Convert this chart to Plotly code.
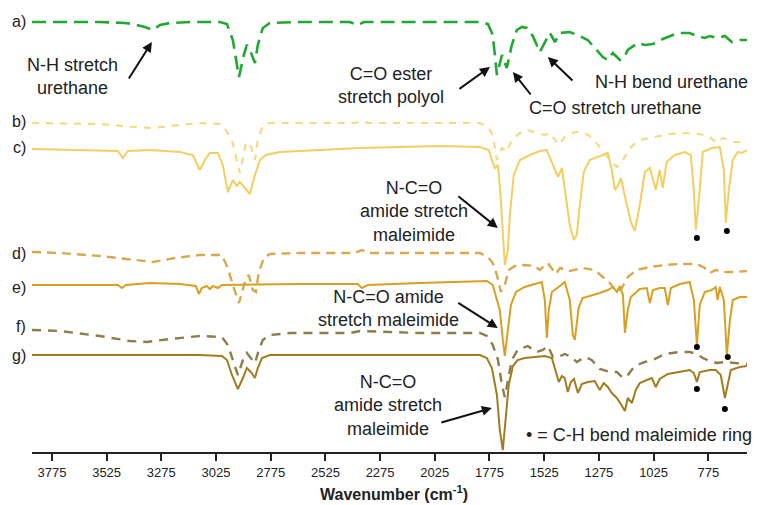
import plotly.graph_objects as go

# ---------------- data ----------------
# wavenumbers (cm-1) and signal relative to each spectrum's own baseline (a.u.)
a_wn = [3866, 3738, 3556, 3441, 3405, 3350, 3313, 3281, 3236, 3144, 3007, 2975, 2948, 2920, 2898, 2884, 2870, 2847, 2834, 2811, 2779, 2642, 2413, 2377, 2349, 2093, 1819, 1782, 1760, 1741, 1718, 1696, 1673, 1650, 1627, 1605, 1577, 1545, 1522, 1499, 1476, 1453, 1408, 1362, 1326, 1284, 1257, 1234, 1211, 1179, 1161, 1143, 1097, 1065, 1028, 983, 914, 860, 827, 791, 768, 736, 699, 667, 631, 598]
a_val = [0, 0, 0, -1, -2, -5, -8, -3, -1, 0, 0, -2, -18, -55, -33, -23, -28, -41, -23, -6, -1, 0, 0, -3, 0, 0, 0, -2, -13, -53, -33, -46, -23, -8, -5, -6, -14, -30, -20, -11, -20, -11, -10, -14, -18, -28, -35, -38, -31, -38, -36, -28, -21, -23, -22, -17, -11, -11, -14, -16, -14, -16, -14, -20, -18, -18]

b_wn = [3866, 3556, 3405, 3313, 3190, 3099, 2998, 2952, 2916, 2888, 2870, 2847, 2834, 2811, 2779, 2390, 2358, 2331, 1819, 1782, 1760, 1741, 1718, 1696, 1673, 1636, 1605, 1559, 1522, 1499, 1476, 1458, 1431, 1385, 1349, 1303, 1262, 1225, 1193, 1170, 1147, 1120, 1088, 1019, 951, 882, 814, 768, 736, 709, 663, 598]
b_val = [0, -1, -4, -5, -2, 0, -1, -17, -50, -20, -20, -37, -17, -3, 0, 0, 2, 0, 0, -4, -12, -37, -25, -29, -17, -10, -7, -10, -12, -10, -17, -22, -14, -9, -9, -15, -27, -37, -44, -39, -30, -22, -17, -14, -11, -10, -11, -14, -20, -15, -19, -19]

c_wn = [3866, 3556, 3473, 3451, 3428, 3327, 3190, 3131, 3099, 3076, 3053, 3016, 2994, 2971, 2948, 2930, 2916, 2893, 2870, 2847, 2824, 2797, 2733, 2550, 2367, 2185, 2002, 1819, 1778, 1764, 1750, 1736, 1723, 1705, 1691, 1682, 1664, 1636, 1591, 1545, 1513, 1485, 1462, 1444, 1426, 1408, 1389, 1376, 1362, 1344, 1317, 1271, 1234, 1216, 1202, 1188, 1175, 1152, 1129, 1111, 1088, 1065, 1042, 1015, 997, 983, 965, 928, 882, 855, 841, 832, 818, 800, 759, 722, 704, 695, 681, 663, 640, 622, 598]
c_val = [0, -1, -2, -9, -2, -1, -3, -6, -21, -11, -4, -4, -16, -43, -31, -37, -33, -39, -45, -26, -11, -6, -3, -1, 1, 2, 3, 2, -1, -11, -19, -16, -51, -116, -101, -66, -26, -11, -6, -2, -1, -16, -28, -19, -46, -76, -91, -86, -56, -23, -11, -7, -4, -21, -41, -37, -29, -51, -73, -82, -56, -23, -19, -41, -21, -39, -13, -6, -3, -6, -41, -81, -51, -3, 1, 2, -21, -74, -41, -11, -3, -4, -1]

d_wn = [3866, 3738, 3556, 3405, 3313, 3213, 3099, 2998, 2971, 2948, 2920, 2888, 2875, 2857, 2843, 2829, 2806, 2779, 2642, 2390, 2358, 2331, 1819, 1782, 1760, 1741, 1723, 1705, 1687, 1659, 1614, 1568, 1545, 1522, 1508, 1485, 1471, 1453, 1408, 1349, 1294, 1257, 1225, 1193, 1170, 1143, 1102, 1042, 974, 905, 827, 791, 768, 741, 704, 654, 598]
d_val = [1, 0, -3, -7, -9, -5, -2, -2, -15, -32, -50, -25, -22, -37, -39, -19, -5, -1, 0, 0, 3, 0, 0, -4, -10, -22, -39, -32, -17, -13, -12, -13, -17, -12, -10, -17, -21, -15, -18, -15, -17, -24, -30, -39, -35, -24, -17, -14, -12, -11, -11, -15, -20, -17, -19, -19, -18]

e_wn = [3866, 3556, 3473, 3455, 3437, 3327, 3190, 3117, 3103, 3090, 3067, 3053, 3039, 3016, 2998, 2642, 2377, 2358, 2331, 2093, 1865, 1787, 1760, 1741, 1728, 1714, 1705, 1691, 1677, 1654, 1614, 1568, 1536, 1522, 1513, 1504, 1490, 1453, 1431, 1408, 1394, 1385, 1376, 1367, 1349, 1317, 1271, 1234, 1211, 1193, 1179, 1165, 1156, 1143, 1129, 1088, 1056, 1042, 1028, 997, 974, 960, 946, 905, 860, 841, 827, 814, 791, 759, 741, 732, 722, 704, 690, 676, 663, 631, 598]
e_val = [0, 0, 0, -3, 0, 2, 1, -1, -9, -3, -1, -4, -1, -3, 0, 1, 1, -3, 0, 2, 4, 4, 0, -15, -25, -55, -71, -45, -20, -7, -2, 1, 3, -15, -53, -25, -7, -1, 3, -15, -50, -55, -40, -22, -13, -11, -8, -5, -2, -7, -1, -10, -48, -25, -12, -4, -3, -18, -5, -3, -3, -20, -3, 1, 3, -15, -60, -20, -7, -5, -2, -15, -2, -15, -70, -35, -15, -12, -12]

f_wn = [3866, 3738, 3556, 3419, 3341, 3236, 3099, 2998, 2971, 2948, 2925, 2902, 2884, 2866, 2847, 2829, 2811, 2779, 2687, 2413, 2367, 2093, 1819, 1787, 1760, 1736, 1718, 1705, 1691, 1673, 1646, 1600, 1559, 1531, 1508, 1485, 1462, 1431, 1408, 1376, 1339, 1308, 1271, 1225, 1193, 1165, 1143, 1111, 1065, 1019, 974, 905, 860, 827, 800, 768, 736, 699, 654, 598]
f_val = [2, 1, -4, -9, -10, -7, -4, -5, -13, -28, -43, -28, -21, -26, -31, -18, -8, -3, -1, -1, 1, -1, -1, -4, -13, -28, -53, -65, -48, -28, -18, -14, -20, -18, -14, -25, -25, -22, -24, -30, -25, -28, -37, -40, -40, -46, -43, -34, -30, -27, -22, -20, -20, -22, -26, -29, -31, -30, -31, -32]

g_wn = [3866, 3556, 3099, 2998, 2975, 2952, 2925, 2902, 2884, 2866, 2847, 2834, 2815, 2779, 1819, 1787, 1764, 1741, 1728, 1714, 1700, 1687, 1668, 1646, 1614, 1577, 1522, 1490, 1471, 1458, 1444, 1431, 1417, 1403, 1389, 1371, 1353, 1326, 1294, 1271, 1253, 1234, 1216, 1193, 1175, 1156, 1143, 1124, 1106, 1088, 1056, 1033, 1015, 997, 960, 905, 860, 841, 827, 814, 768, 741, 718, 699, 686, 672, 631, 598]
g_val = [0, 0, 0, -1, -5, -20, -34, -23, -13, -17, -23, -13, -3, 0, 0, -3, -13, -40, -75, -95, -65, -30, -11, -5, -3, -2, -1, -3, -17, -27, -21, -23, -37, -27, -24, -38, -29, -27, -26, -35, -28, -32, -38, -43, -49, -56, -43, -48, -35, -28, -25, -23, -32, -24, -19, -17, -15, -18, -27, -17, -15, -15, -20, -43, -30, -15, -12, -11]

# stacking offsets (baseline level of each spectrum, a.u.)
spectra_names = ["a)", "b)", "c)", "d)", "e)", "f)", "g)"]
offsets = [430, 329, 303, 199, 167, 120, 97]

# C-H bend maleimide ring markers
dot_wn = [827, 690, 827, 686, 827, 699]
dot_level = [214, 221, 105, 95, 63, 43]

tick_vals = [3775, 3525, 3275, 3025, 2775, 2525, 2275, 2025, 1775, 1525, 1275, 1025, 775]

# ---------------- styles ----------------
W, H = 771, 505
ML, MR, MT, MB = 32, 24, 0, 53
PW, PH = W - ML - MR, H - MT - MB

series = [
    (a_wn, a_val, "#22a832", "14px,7px", 2.6),
    (b_wn, b_val, "#f7d984", "7px,7px", 2.2),
    (c_wn, c_val, "#f3cf62", "solid", 2.0),
    (d_wn, d_val, "#d5a94c", "9px,6px", 2.4),
    (e_wn, e_val, "#d8a020", "solid", 2.0),
    (f_wn, f_val, "#8e7c4a", "9px,7px", 2.4),
    (g_wn, g_val, "#a27c1e", "solid", 2.0),
]

fig = go.Figure()
for (wn, val, col, dash, lw), off, name in zip(series, offsets, spectra_names):
    fig.add_trace(go.Scatter(x=wn, y=[off + v for v in val], mode="lines", name=name,
                             line=dict(color=col, width=lw, dash=dash), hoverinfo="skip"))

fig.add_trace(go.Scatter(x=dot_wn, y=dot_level, mode="markers",
                         marker=dict(color="black", size=6), hoverinfo="skip"))


def px(x):
    return (x - ML) / PW


def py(y):
    return (MT + PH - y) / PH


FONT = "Arial, Liberation Sans, sans-serif"
ann = []
# spectrum labels
for name, row in zip(spectra_names, [21, 121, 148, 253, 287, 326, 355]):
    ann.append(dict(text=name, x=px(28), y=py(row), xref="paper", yref="paper",
                    xanchor="right", yanchor="middle", showarrow=False,
                    font=dict(size=16, color="#222")))

texts = [
    ("N-H stretch<br>urethane", 72, 76),
    ("C=O ester<br>stretch polyol", 391, 86),
    ("C=O stretch urethane", 615, 108),
    ("N-H bend urethane", 671, 82),
    ("N-C=O<br>amide stretch<br>maleimide", 414, 212),
    ("N-C=O amide<br>stretch maleimide", 388, 308),
    ("N-C=O<br>amide stretch<br>maleimide", 388, 405),
]
for t, x, y in texts:
    ann.append(dict(text=t, x=px(x), y=py(y), xref="paper", yref="paper",
                    xanchor="center", yanchor="middle", showarrow=False, align="center",
                    font=dict(size=18, color="#222")))

ann.append(dict(text="\u2022 = C-H bend maleimide ring", x=px(524), y=py(435), xref="paper",
                yref="paper", xanchor="left", yanchor="middle", showarrow=False,
                font=dict(size=18, color="#222")))

ann.append(dict(text="<b>Wavenumber (cm<sup>-1</sup>)</b>", x=px(394), y=py(493), xref="paper",
                yref="paper", xanchor="center", yanchor="middle", showarrow=False,
                font=dict(size=16, color="#222")))

# arrows: head in data coords, tail offset in pixels
arrows = [
    (3318, 410, -24, 38),
    (1773, 385, -32, 23),
    (1668, 380, 19, 24),
    (1508, 395, 26, 25),
    (1737, 224, -41, -33),
    (1737, 124, -41, -26),
    (1764, 44, -52, 15),
]
for x, y, ax, ay in arrows:
    ann.append(dict(text="", x=x, y=y, xref="x", yref="y", ax=ax, ay=ay, showarrow=True,
                    arrowhead=2, arrowsize=1, arrowwidth=2, arrowcolor="#111"))

fig.update_layout(
    width=W, height=H, margin=dict(l=ML, r=MR, t=MT, b=MB),
    paper_bgcolor="white", plot_bgcolor="white", showlegend=False,
    font=dict(family=FONT, color="#222"),
    annotations=ann,
    xaxis=dict(range=[3866, 598], tickvals=tick_vals, ticks="outside", ticklen=7, tickwidth=2,
               tickcolor="#222", showline=True, linewidth=2, linecolor="#222", showgrid=False,
               zeroline=False, tickfont=dict(size=13, color="#222")),
    yaxis=dict(range=[0, 452], visible=False, showgrid=False, zeroline=False),
)

fig.write_html("out.html", config={"displayModeBar": False},
               post_script="document.body.style.margin='0';document.body.style.overflow='hidden';")
